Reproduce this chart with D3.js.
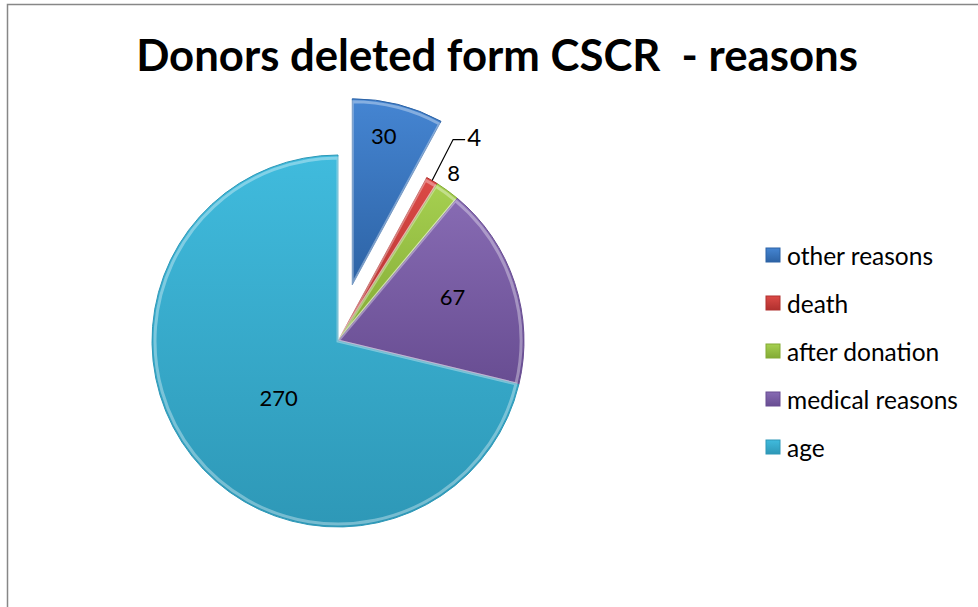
<!DOCTYPE html>
<html>
<head>
<meta charset="utf-8">
<script src="https://cdn.jsdelivr.net/npm/d3@7"></script>
<style>
  html, body { margin: 0; padding: 0; background: #fff; }
  svg { display: block; }
</style>
</head>
<body>
<script>
// ---- data ----
const title = "Donors deleted form CSCR  - reasons";
const categories = ["other reasons", "death", "after donation", "medical reasons", "age"];
const values = [30, 4, 8, 67, 270];
const colorsTop = ["#4585d2", "#dc4a46", "#a6d050", "#876bb3", "#40bbdd"];
const colorsBottom = ["#2d63a5", "#b0302e", "#83aa35", "#684d92", "#2e98b7"];

const W = 978, H = 607;
const svg = d3.select("body").append("svg").attr("width", W).attr("height", H);

// chart border
svg.append("rect")
  .attr("x", 7.5).attr("y", 4.5)
  .attr("width", W + 20).attr("height", H + 20)
  .attr("fill", "#fff").attr("stroke", "#878787").attr("stroke-width", 1.5);

// title (fit width)
const t = svg.append("text")
  .attr("x", 497).attr("y", 71)
  .attr("text-anchor", "middle")
  .attr("font-family", "Lato, 'Open Sans', sans-serif")
  .attr("font-weight", "bold")
  .attr("font-size", 40)
  .attr("fill", "#000")
  .attr("xml:space", "preserve")
  .style("white-space", "pre")
  .text(title);
const tw = t.node().getComputedTextLength();
t.attr("font-size", 40 * 722 / tw);

// gradients
const defs = svg.append("defs");
categories.forEach((c, i) => {
  const g = defs.append("linearGradient").attr("id", "g" + i)
    .attr("x1", 0).attr("y1", 0).attr("x2", 0).attr("y2", 1);
  g.append("stop").attr("offset", "0%").attr("stop-color", colorsTop[i]);
  g.append("stop").attr("offset", "100%").attr("stop-color", colorsBottom[i]);
});

const cx = 338, cy = 341, R = 186;
const pie = d3.pie().sort(null).value(d => d)(values);
const arc = d3.arc().innerRadius(0).outerRadius(R);
const explode = [58, 0, 0, 0, 0];

const gp = svg.append("g").attr("transform", `translate(${cx},${cy})`);

const slices = gp.selectAll("g.slice").data(pie).join("g")
  .attr("class", "slice")
  .attr("transform", (d, i) => {
    const a = (d.startAngle + d.endAngle) / 2;
    return `translate(${explode[i] * Math.sin(a)},${-explode[i] * Math.cos(a)})`;
  });

slices.append("path")
  .attr("d", arc)
  .attr("fill", (d, i) => `url(#g${i})`)
  .attr("stroke", (d, i) => colorsBottom[i])
  .attr("stroke-width", 1);

// bevel highlight
slices.append("path")
  .attr("d", d3.arc().innerRadius(0).outerRadius(R - 3))
  .attr("fill", "none")
  .attr("stroke", "rgba(255,255,255,0.35)")
  .attr("stroke-width", 3);

// labels
const labelFont = "Lato, 'Open Sans', sans-serif";
const labelR = [0.82, 0, 1.1, 0.66, 0.44];
pie.forEach((d, i) => {
  if (i === 1) return;
  const a = (d.startAngle + d.endAngle) / 2;
  const aa = i === 4 ? a - 0.09 : (i === 3 ? a - 0.05 : a - 0.03);
  const r = R * labelR[i] + explode[i];
  gp.append("text")
    .attr("x", r * Math.sin(aa)).attr("y", -r * Math.cos(aa))
    .attr("text-anchor", "middle").attr("dominant-baseline", "central")
    .attr("font-family", labelFont).attr("font-size", 22).attr("fill", "#000")
    .text(values[i]);
});

// leader line for "death"
{
  const d = pie[1];
  const a = (d.startAngle + d.endAngle) / 2;
  const x0 = R * Math.sin(a), y0 = -R * Math.cos(a);
  const x1 = x0 + 21, y1 = y0 - 41;
  gp.append("polyline")
    .attr("points", `${x0},${y0} ${x1},${y1} ${x1 + 12},${y1}`)
    .attr("fill", "none").attr("stroke", "#000").attr("stroke-width", 1.2);
  gp.append("text")
    .attr("x", x1 + 21).attr("y", y1 - 3)
    .attr("text-anchor", "middle").attr("dominant-baseline", "central")
    .attr("font-family", labelFont).attr("font-size", 24).attr("fill", "#000")
    .text(values[1]);
}

// legend
const lg = svg.append("g").attr("transform", "translate(766,255)");
const items = lg.selectAll("g").data(categories).join("g")
  .attr("transform", (d, i) => `translate(0,${i * 48})`);
items.append("rect")
  .attr("x", 0).attr("y", -7).attr("width", 14).attr("height", 14)
  .attr("fill", (d, i) => `url(#g${i})`)
  .attr("stroke", (d, i) => colorsBottom[i]).attr("stroke-width", 1);
items.append("text")
  .attr("x", 21).attr("y", 0)
  .attr("dominant-baseline", "central")
  .attr("font-family", labelFont).attr("font-size", 24.5).attr("fill", "#000")
  .text(d => d);
</script>
</body>
</html>
